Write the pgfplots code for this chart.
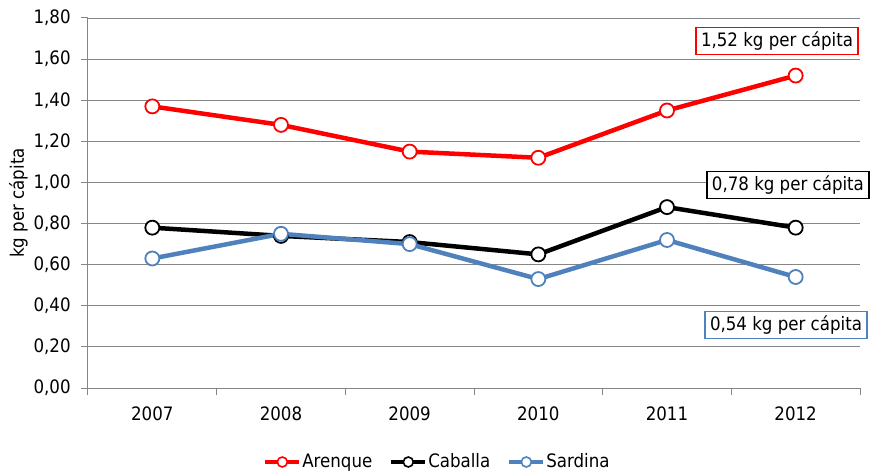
\documentclass[border=0pt]{standalone}
\usepackage{fontspec}
\setmainfont{DejaVu Sans Condensed}
\usepackage{pgfplots}
\pgfplotsset{compat=1.18}
\definecolor{sred}{RGB}{255,0,0}
\definecolor{sblue}{RGB}{79,129,189}
\definecolor{gridgray}{RGB}{134,134,134}
\begin{document}
\fontsize{18.5bp}{21bp}\selectfont
\begin{tikzpicture}
\begin{axis}[
  name=ax,
  scale only axis, width=772bp, height=370bp,
  xmin=-0.5, xmax=5.5, ymin=0, ymax=1.8,
  axis x line*=bottom, axis y line*=left,
  axis line style={-, gridgray, line width=1bp},
  xtick={0,1,2,3,4,5},
  xticklabels={2007,2008,2009,2010,2011,2012},
  minor xtick={-0.5,0.5,1.5,2.5,3.5,4.5,5.5},
  major x tick style={draw=none},
  minor x tick style={gridgray, line width=1bp},
  ytick={0,0.2,0.4,0.6,0.8,1.0,1.2,1.4,1.6,1.8},
  tick align=outside,
  major tick length=7bp, minor tick length=7bp,
  tick style={gridgray, line width=1bp},
  ymajorgrids,
  major grid style={gridgray, line width=0.8bp},
  yticklabel style={xshift=-4bp, /pgf/number format/.cd, fixed, fixed zerofill, precision=2, use comma, assume math mode=true},
  xticklabel style={yshift=-5bp},
  ylabel={kg per cápita},
  ylabel style={at={(axis description cs:-0.09,0.5)}, anchor=center},
  clip=false,
  every axis plot/.append style={line width=4.5bp},
  legend columns=3,
  legend style={at={(0.452,-0.2)}, anchor=center, draw=none, fill=none,
    /tikz/every even column/.append style={column sep=16bp},
    nodes={inner sep=1bp}},
  legend image code/.code={
    \draw[#1, line width=4bp, mark size=5bp, mark options={fill=white, line width=1.6bp}, mark repeat=2, mark phase=2]
      plot coordinates {(0bp,0bp) (17bp,0bp) (34bp,0bp)};},
]
\addplot[sred, mark=*, mark size=7bp, mark options={fill=white, line width=1.8bp}]
  coordinates {(0,1.37) (1,1.28) (2,1.15) (3,1.12) (4,1.35) (5,1.52)};
\addlegendentry{Arenque}
\addplot[black, mark=*, mark size=7bp, mark options={fill=white, line width=1.8bp}]
  coordinates {(0,0.78) (1,0.74) (2,0.71) (3,0.65) (4,0.88) (5,0.78)};
\addlegendentry{Caballa}
\addplot[sblue, mark=*, mark size=7bp, mark options={fill=white, line width=1.8bp}]
  coordinates {(0,0.63) (1,0.75) (2,0.70) (3,0.53) (4,0.72) (5,0.54)};
\addlegendentry{Sardina}
\node[draw=sred, fill=white, line width=1.3bp, inner xsep=5bp, inner ysep=4bp] at (axis cs:4.855,1.688) {1,52 kg per cápita};
\node[draw=black, fill=white, line width=1.3bp, inner xsep=5bp, inner ysep=4bp] at (axis cs:4.94,0.987) {0,78 kg per cápita};
\node[draw=sblue, fill=white, line width=1.3bp, inner xsep=5bp, inner ysep=4bp] at (axis cs:4.925,0.306) {0,54 kg per cápita};
\end{axis}
\pgfresetboundingbox
\path ([xshift=-88bp,yshift=-85bp]ax.south west) rectangle ([xshift=15bp,yshift=18bp]ax.north east);
\end{tikzpicture}
\end{document}
